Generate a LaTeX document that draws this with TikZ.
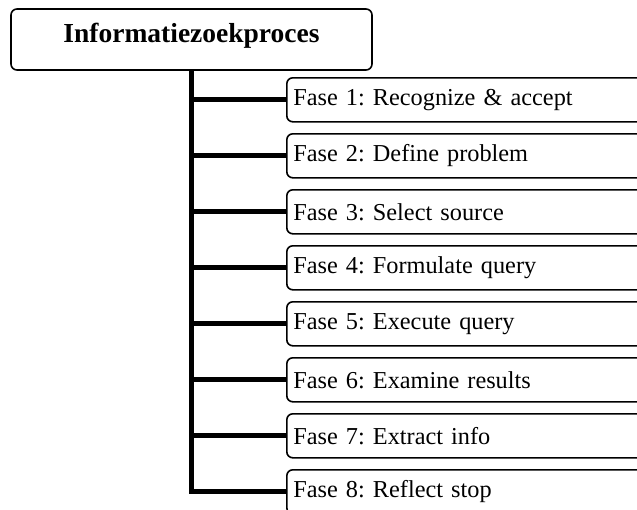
\documentclass[tikz,border=0pt]{standalone}
\usepackage{fontspec}
\setmainfont{Liberation Serif}
\usepackage{tikz}

\tikzset{
  procbox/.style={draw, line width=1.6pt, rounded corners=6pt, inner sep=0pt,
    minimum width=361pt, text height=33pt, text depth=28pt,
    font=\fontsize{27.5}{30}\selectfont\bfseries},
  fasebox/.style={draw, line width=1.6pt, rounded corners=6pt, inner xsep=6.5pt,
    text width=382pt, align=left, minimum height=44pt, anchor=north west,
    font=\fontsize{24.3}{27}\selectfont\frenchspacing},
  trunk/.style={line width=5pt, line join=miter}
}

\begin{document}
\begin{tikzpicture}[x=1pt,y=-1pt]
  \clip (0,0) rectangle (637,509);
  \fill[white] (0,0) rectangle (637,509);

  \node[procbox] (proc) at (191.5,39.5) {Informatiezoekproces};

  \foreach \n/\fase in {1/Recognize \& accept, 2/Define problem, 3/Select source,
      4/Formulate query, 5/Execute query, 6/Examine results, 7/Extract info,
      8/Reflect stop} {
    \node[fasebox] (f\n) at (286,{77+56*(\n-1)}) {Fase \n: \fase};
  }

  \draw[trunk] (proc.south) |- (f8.west); %main line with the last phase
  \foreach \n in {1,...,7} {
    \draw[trunk] (proc.south |- f\n.west) -- (f\n.west);
  }
\end{tikzpicture}
\end{document}
